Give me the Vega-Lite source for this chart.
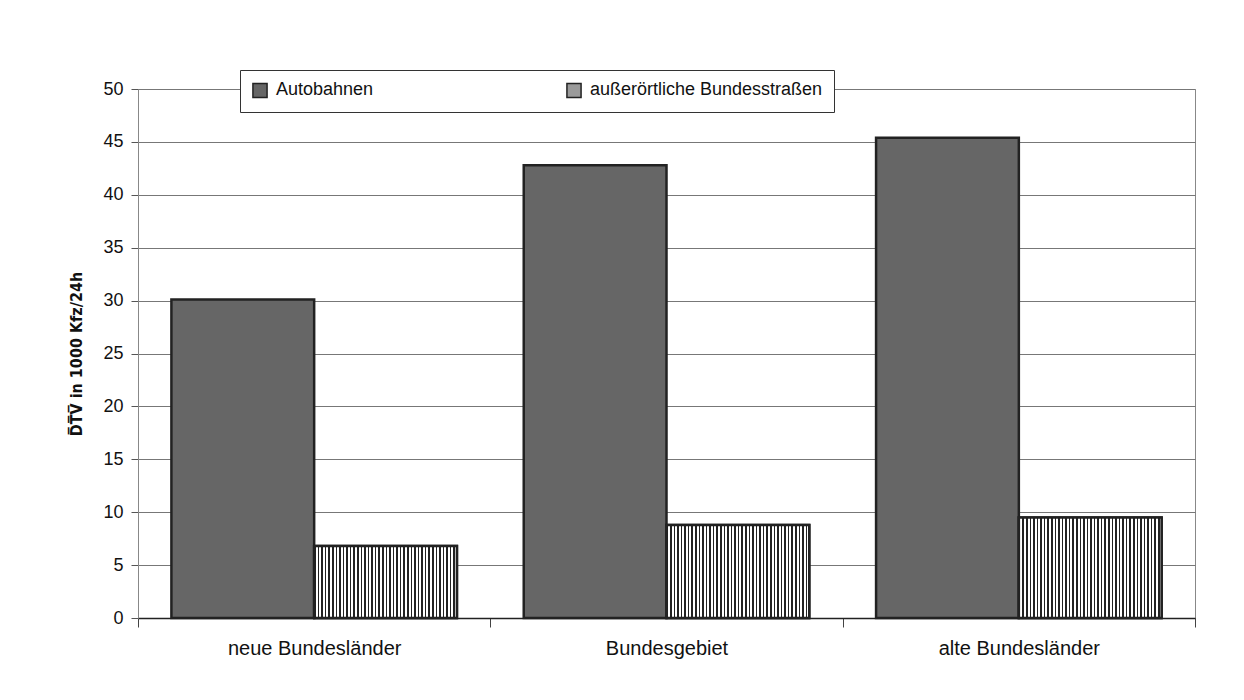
{
  "$schema": "https://vega.github.io/schema/vega-lite/v6.json",
  "autosize": {"type": "none"},
  "width": 1057,
  "height": 529,
  "padding": {"left": 138, "top": 89, "right": 49, "bottom": 82},
  "background": "white",
  "config": {"font": "Liberation Sans", "view": {"stroke": "#888", "strokeWidth": 1}},
  "data": {"values": [
    {"Gebiet": "neue Bundesländer", "Straße": "Autobahnen", "DTV": 30.1},
    {"Gebiet": "neue Bundesländer", "Straße": "außerörtliche Bundesstraßen", "DTV": 6.8},
    {"Gebiet": "Bundesgebiet", "Straße": "Autobahnen", "DTV": 42.8},
    {"Gebiet": "Bundesgebiet", "Straße": "außerörtliche Bundesstraßen", "DTV": 8.8},
    {"Gebiet": "alte Bundesländer", "Straße": "Autobahnen", "DTV": 45.4},
    {"Gebiet": "alte Bundesländer", "Straße": "außerörtliche Bundesstraßen", "DTV": 9.5}
  ]},
  "encoding": {
    "x": {
      "field": "Gebiet", "type": "nominal",
      "sort": ["neue Bundesländer", "Bundesgebiet", "alte Bundesländer"],
      "scale": {"paddingInner": 0, "paddingOuter": 0},
      "axis": {"title": null, "labelAngle": 0, "labelFontSize": 20, "labelColor": "#111", "labelPadding": 11,
               "tickBand": "extent", "tickSize": 9, "tickColor": "#444", "domainColor": "#222", "domainWidth": 1.5, "grid": false}
    },
    "xOffset": {
      "field": "Straße", "type": "nominal",
      "sort": ["Autobahnen", "außerörtliche Bundesstraßen"],
      "scale": {"domain": ["Autobahnen", "außerörtliche Bundesstraßen"], "paddingInner": 0, "paddingOuter": 0.234}
    },
    "y": {
      "field": "DTV", "type": "quantitative",
      "scale": {"domain": [0, 50], "nice": false},
      "axis": {"values": [0, 5, 10, 15, 20, 25, 30, 35, 40, 45, 50],
               "title": "D̅T̅V̅ in 1000 Kfz/24h", "titleFont": "DejaVu Sans Condensed", "titleFontSize": 16, "titleFontWeight": "bold", "titleColor": "#111", "titlePadding": 18,
               "labelFontSize": 18, "labelColor": "#111", "labelPadding": 8, "tickSize": 7, "tickColor": "#555",
               "gridColor": "#777", "gridWidth": 1, "domainColor": "#888"}
    }
  },
  "layer": [
    {
      "mark": {"type": "bar", "stroke": "#222", "strokeWidth": 2.5},
      "encoding": {
        "fill": {
          "field": "Straße", "type": "nominal",
          "sort": ["Autobahnen", "außerörtliche Bundesstraßen"],
          "scale": {"domain": ["Autobahnen", "außerörtliche Bundesstraßen"], "range": ["#666666", "#9a9a9a"]},
          "legend": {
            "title": null, "orient": "none", "legendX": 102, "legendY": -19, "direction": "horizontal",
            "fillColor": "white", "strokeColor": "#333", "padding": 11,
            "symbolType": "square", "symbolSize": 200, "symbolStrokeColor": "#222", "symbolStrokeWidth": 1.5,
            "labelFontSize": 18, "labelColor": "#111", "labelOffset": 7, "columnPadding": 189, "labelLimit": 400
          }
        }
      }
    },
    {
      "transform": [{"filter": "datum['Straße'] === 'außerörtliche Bundesstraßen'"}],
      "mark": {"type": "bar", "stroke": "#222", "strokeWidth": 2.5,
        "fill": {"gradient": "linear", "x1": 0, "y1": 0, "x2": 1, "y2": 0, "stops": [
          {"offset": 0, "color": "#222"}, {"offset": 0.011, "color": "#222"}, {"offset": 0.011, "color": "#fff"}, {"offset": 0.025, "color": "#fff"},
          {"offset": 0.025, "color": "#222"}, {"offset": 0.036, "color": "#222"}, {"offset": 0.036, "color": "#fff"}, {"offset": 0.05, "color": "#fff"},
          {"offset": 0.05, "color": "#222"}, {"offset": 0.061, "color": "#222"}, {"offset": 0.061, "color": "#fff"}, {"offset": 0.075, "color": "#fff"},
          {"offset": 0.075, "color": "#222"}, {"offset": 0.086, "color": "#222"}, {"offset": 0.086, "color": "#fff"}, {"offset": 0.1, "color": "#fff"},
          {"offset": 0.1, "color": "#222"}, {"offset": 0.111, "color": "#222"}, {"offset": 0.111, "color": "#fff"}, {"offset": 0.125, "color": "#fff"},
          {"offset": 0.125, "color": "#222"}, {"offset": 0.136, "color": "#222"}, {"offset": 0.136, "color": "#fff"}, {"offset": 0.15, "color": "#fff"},
          {"offset": 0.15, "color": "#222"}, {"offset": 0.161, "color": "#222"}, {"offset": 0.161, "color": "#fff"}, {"offset": 0.175, "color": "#fff"},
          {"offset": 0.175, "color": "#222"}, {"offset": 0.186, "color": "#222"}, {"offset": 0.186, "color": "#fff"}, {"offset": 0.2, "color": "#fff"},
          {"offset": 0.2, "color": "#222"}, {"offset": 0.211, "color": "#222"}, {"offset": 0.211, "color": "#fff"}, {"offset": 0.225, "color": "#fff"},
          {"offset": 0.225, "color": "#222"}, {"offset": 0.236, "color": "#222"}, {"offset": 0.236, "color": "#fff"}, {"offset": 0.25, "color": "#fff"},
          {"offset": 0.25, "color": "#222"}, {"offset": 0.261, "color": "#222"}, {"offset": 0.261, "color": "#fff"}, {"offset": 0.275, "color": "#fff"},
          {"offset": 0.275, "color": "#222"}, {"offset": 0.286, "color": "#222"}, {"offset": 0.286, "color": "#fff"}, {"offset": 0.3, "color": "#fff"},
          {"offset": 0.3, "color": "#222"}, {"offset": 0.311, "color": "#222"}, {"offset": 0.311, "color": "#fff"}, {"offset": 0.325, "color": "#fff"},
          {"offset": 0.325, "color": "#222"}, {"offset": 0.336, "color": "#222"}, {"offset": 0.336, "color": "#fff"}, {"offset": 0.35, "color": "#fff"},
          {"offset": 0.35, "color": "#222"}, {"offset": 0.361, "color": "#222"}, {"offset": 0.361, "color": "#fff"}, {"offset": 0.375, "color": "#fff"},
          {"offset": 0.375, "color": "#222"}, {"offset": 0.386, "color": "#222"}, {"offset": 0.386, "color": "#fff"}, {"offset": 0.4, "color": "#fff"},
          {"offset": 0.4, "color": "#222"}, {"offset": 0.411, "color": "#222"}, {"offset": 0.411, "color": "#fff"}, {"offset": 0.425, "color": "#fff"},
          {"offset": 0.425, "color": "#222"}, {"offset": 0.436, "color": "#222"}, {"offset": 0.436, "color": "#fff"}, {"offset": 0.45, "color": "#fff"},
          {"offset": 0.45, "color": "#222"}, {"offset": 0.461, "color": "#222"}, {"offset": 0.461, "color": "#fff"}, {"offset": 0.475, "color": "#fff"},
          {"offset": 0.475, "color": "#222"}, {"offset": 0.486, "color": "#222"}, {"offset": 0.486, "color": "#fff"}, {"offset": 0.5, "color": "#fff"},
          {"offset": 0.5, "color": "#222"}, {"offset": 0.511, "color": "#222"}, {"offset": 0.511, "color": "#fff"}, {"offset": 0.525, "color": "#fff"},
          {"offset": 0.525, "color": "#222"}, {"offset": 0.536, "color": "#222"}, {"offset": 0.536, "color": "#fff"}, {"offset": 0.55, "color": "#fff"},
          {"offset": 0.55, "color": "#222"}, {"offset": 0.561, "color": "#222"}, {"offset": 0.561, "color": "#fff"}, {"offset": 0.575, "color": "#fff"},
          {"offset": 0.575, "color": "#222"}, {"offset": 0.586, "color": "#222"}, {"offset": 0.586, "color": "#fff"}, {"offset": 0.6, "color": "#fff"},
          {"offset": 0.6, "color": "#222"}, {"offset": 0.611, "color": "#222"}, {"offset": 0.611, "color": "#fff"}, {"offset": 0.625, "color": "#fff"},
          {"offset": 0.625, "color": "#222"}, {"offset": 0.636, "color": "#222"}, {"offset": 0.636, "color": "#fff"}, {"offset": 0.65, "color": "#fff"},
          {"offset": 0.65, "color": "#222"}, {"offset": 0.661, "color": "#222"}, {"offset": 0.661, "color": "#fff"}, {"offset": 0.675, "color": "#fff"},
          {"offset": 0.675, "color": "#222"}, {"offset": 0.686, "color": "#222"}, {"offset": 0.686, "color": "#fff"}, {"offset": 0.7, "color": "#fff"},
          {"offset": 0.7, "color": "#222"}, {"offset": 0.711, "color": "#222"}, {"offset": 0.711, "color": "#fff"}, {"offset": 0.725, "color": "#fff"},
          {"offset": 0.725, "color": "#222"}, {"offset": 0.736, "color": "#222"}, {"offset": 0.736, "color": "#fff"}, {"offset": 0.75, "color": "#fff"},
          {"offset": 0.75, "color": "#222"}, {"offset": 0.761, "color": "#222"}, {"offset": 0.761, "color": "#fff"}, {"offset": 0.775, "color": "#fff"},
          {"offset": 0.775, "color": "#222"}, {"offset": 0.786, "color": "#222"}, {"offset": 0.786, "color": "#fff"}, {"offset": 0.8, "color": "#fff"},
          {"offset": 0.8, "color": "#222"}, {"offset": 0.811, "color": "#222"}, {"offset": 0.811, "color": "#fff"}, {"offset": 0.825, "color": "#fff"},
          {"offset": 0.825, "color": "#222"}, {"offset": 0.836, "color": "#222"}, {"offset": 0.836, "color": "#fff"}, {"offset": 0.85, "color": "#fff"},
          {"offset": 0.85, "color": "#222"}, {"offset": 0.861, "color": "#222"}, {"offset": 0.861, "color": "#fff"}, {"offset": 0.875, "color": "#fff"},
          {"offset": 0.875, "color": "#222"}, {"offset": 0.886, "color": "#222"}, {"offset": 0.886, "color": "#fff"}, {"offset": 0.9, "color": "#fff"},
          {"offset": 0.9, "color": "#222"}, {"offset": 0.911, "color": "#222"}, {"offset": 0.911, "color": "#fff"}, {"offset": 0.925, "color": "#fff"},
          {"offset": 0.925, "color": "#222"}, {"offset": 0.936, "color": "#222"}, {"offset": 0.936, "color": "#fff"}, {"offset": 0.95, "color": "#fff"},
          {"offset": 0.95, "color": "#222"}, {"offset": 0.961, "color": "#222"}, {"offset": 0.961, "color": "#fff"}, {"offset": 0.975, "color": "#fff"},
          {"offset": 0.975, "color": "#222"}, {"offset": 0.986, "color": "#222"}, {"offset": 0.986, "color": "#fff"}, {"offset": 1, "color": "#fff"}
        ]}
      }
    }
  ]
}
